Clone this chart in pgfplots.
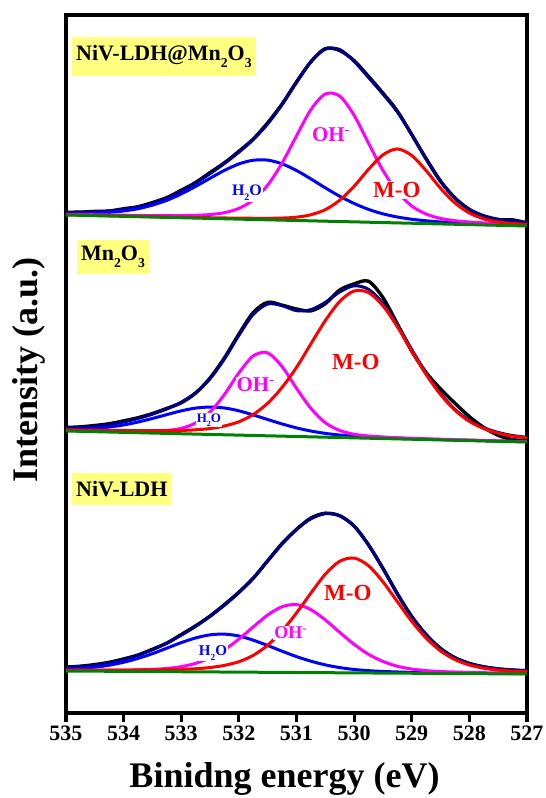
\documentclass[border=0pt]{standalone}
\usepackage{pgfplots}
\pgfplotsset{compat=1.18}
\usepackage{pgfplotstable}
\usepackage{fontspec}
\setmainfont{Liberation Serif}

\definecolor{navyenv}{RGB}{0,0,128}
\definecolor{basegreen}{RGB}{0,128,0}
\definecolor{tagyellow}{RGB}{255,255,128}
\definecolor{pureblue}{RGB}{0,0,255}
\definecolor{puremagenta}{RGB}{255,0,255}
\definecolor{purered}{RGB}{255,0,0}

% lowered, reduced subscript digit
\newcommand{\dn}[1]{\raisebox{-0.3em}{\scalebox{0.62}{#1}}}

% O 1s fits: x = binding energy (eV), base = background line,
% h2o, oh, mo = fitted components above background, env = fit envelope, raw = measured
\pgfplotstableread{
x base h2o oh mo env raw
535 498.00 1.5 0.7 0.2 2.4 2.8
534.75 497.66 1.9 0.8 0.3 3.0 3.2
534.5 497.31 2.6 0.9 0.3 3.8 4.3
534.25 496.97 3.7 1.0 0.3 5.0 5.0
534 496.63 5.4 1.2 0.4 7.0 7.6
533.75 496.28 8.0 1.3 0.4 9.7 10.0
533.5 495.94 11.9 1.5 0.4 13.8 14.5
533.25 495.59 17.1 1.8 0.5 19.4 19.8
533 495.25 23.8 2.2 0.5 26.5 27.5
532.75 494.91 31.7 2.8 0.6 35.1 35.6
532.5 494.56 40.2 3.9 0.7 44.8 45.9
532.25 494.22 48.4 6.1 0.8 55.3 56.0
532 493.88 55.2 10.7 1.0 66.9 67.8
531.75 493.53 59.2 19.5 1.2 79.9 80.5
531.5 493.19 59.7 34.7 1.5 95.9 97.0
531.25 492.84 56.3 57.1 2.1 115.5 116.2
531 492.50 50.0 84.6 3.3 137.9 138.6
530.75 492.16 41.9 111.2 6.1 159.2 159.0
530.5 491.81 33.3 127.2 11.5 172.0 172.6
530.25 491.47 25.3 125.4 21.3 172.0 171.0
530 491.13 18.4 106.5 35.6 160.5 161.2
529.75 490.78 12.8 79.0 52.9 144.7 145.8
529.5 490.44 8.7 52.1 67.7 128.5 129.5
529.25 490.09 5.9 31.1 74.0 111.0 111.8
529 489.75 4.0 17.2 67.7 88.9 88.5
528.75 489.41 2.8 9.5 52.9 65.2 64.6
528.5 489.06 2.0 5.5 35.6 43.1 42.6
528.25 488.72 1.6 3.6 21.3 26.5 26.0
528 488.38 1.3 2.6 11.5 15.4 15.0
527.75 488.03 1.1 2.1 6.1 9.3 8.6
527.5 487.69 1.0 1.8 3.3 6.1 5.5
527.25 487.34 0.9 1.5 2.1 4.5 5.8
527 487.00 0.8 1.3 1.5 3.6 3.0
}\tabComposite

\pgfplotstableread{
x base h2o oh mo env raw
535 282.00 1.4 0.6 1.2 3.2 3.5
534.75 281.66 2.1 0.7 1.3 4.1 4.5
534.5 281.31 3.2 0.8 1.5 5.5 6.2
534.25 280.97 5.0 0.9 1.6 7.5 8.3
534 280.63 7.4 1.1 1.9 10.4 11.5
533.75 280.28 10.7 1.4 2.1 14.2 15.0
533.5 279.94 14.6 1.9 2.4 18.9 19.5
533.25 279.59 18.8 2.9 2.8 24.5 25.0
533 279.25 22.9 5.4 3.3 31.6 31.0
532.75 278.91 26.0 11.1 4.3 41.4 41.0
532.5 278.56 27.4 22.4 5.9 55.7 56.5
532.25 278.22 26.8 40.3 8.8 75.9 77.0
532 277.88 24.3 62.2 13.3 99.8 101.0
531.75 277.53 20.5 79.6 21.0 121.1 123.0
531.5 277.19 16.3 82.9 32.6 131.8 133.5
531.25 276.84 12.2 69.5 48.8 130.5 131.0
531 276.50 8.6 48.1 69.1 125.8 127.5
530.75 276.16 5.8 28.4 93.0 127.2 126.0
530.5 275.81 3.8 14.4 116.6 134.8 133.5
530.25 275.47 2.5 7.0 136.1 145.6 147.5
530 275.13 1.6 3.6 146.9 152.1 154.0
529.75 274.78 1.1 2.2 145.6 148.9 157.0
529.5 274.44 0.8 1.6 132.8 135.2 141.0
529.25 274.09 0.6 1.2 112.2 114.0 115.0
529 273.75 0.5 1.0 88.2 89.7 88.0
528.75 273.41 0.4 0.8 65.0 66.2 67.0
528.5 273.06 0.4 0.7 45.3 46.4 51.0
528.25 272.72 0.3 0.6 30.0 30.9 37.0
528 272.38 0.3 0.6 19.2 20.1 24.0
527.75 272.03 0.3 0.5 12.4 13.2 13.5
527.5 271.69 0.2 0.5 8.1 8.8 6.0
527.25 271.34 0.2 0.4 5.5 6.1 2.0
527 271.00 0.2 0.4 4.1 4.7 1.5
}\tabOxide

\pgfplotstableread{
x base h2o oh mo env raw
535 42.00 1.9 0.7 0.9 3.5 3.9
534.75 41.91 2.7 0.8 1.0 4.5 4.9
534.5 41.81 4.0 0.9 1.1 6.0 6.6
534.25 41.72 6.1 1.1 1.2 8.4 9.0
534 41.63 9.1 1.3 1.3 11.7 12.4
533.75 41.53 13.1 1.6 1.5 16.2 16.5
533.5 41.44 17.9 2.2 1.7 21.8 22.3
533.25 41.34 23.5 3.2 2.0 28.7 28.5
533 41.25 29.1 5.1 2.4 36.6 37.2
532.75 41.16 33.9 8.5 3.1 45.5 46.0
532.5 41.06 37.1 14.1 4.4 55.6 55.9
532.25 40.97 37.9 22.2 6.7 66.8 67.5
532 40.88 36.1 33.0 10.4 79.5 79.9
531.75 40.78 32.0 45.4 16.9 94.3 94.0
531.5 40.69 26.8 57.3 27.1 111.2 111.6
531.25 40.59 21.2 65.7 41.5 128.4 128.9
531 40.50 15.9 67.9 59.5 143.3 143.0
530.75 40.41 11.4 62.9 79.5 153.8 154.6
530.5 40.31 7.8 52.7 98.5 159.0 159.5
530.25 40.22 5.2 40.4 111.5 157.1 157.0
530 40.13 3.4 28.5 114.8 146.7 146.9
529.75 40.03 2.3 18.6 107.2 128.1 128.0
529.5 39.94 1.6 11.6 91.2 104.4 104.8
529.25 39.84 1.2 6.9 71.5 79.6 79.3
529 39.75 0.9 4.2 51.9 57.0 56.5
528.75 39.66 0.8 2.7 35.2 38.7 38.6
528.5 39.56 0.7 1.9 22.5 25.1 24.8
528.25 39.47 0.6 1.5 13.9 16.0 15.6
528 39.38 0.55 1.2 8.6 10.4 10.0
527.75 39.28 0.5 1.0 5.5 7.0 6.8
527.5 39.19 0.45 0.9 3.7 5.1 4.8
527.25 39.09 0.4 0.8 2.8 4.0 3.8
527 39.00 0.35 0.7 2.3 3.4 3.2
}\tabLDH

% one stacked spectrum: raw data, envelope, three components, background
\newcommand{\spectrum}[1]{%
  \addplot[black, line width=3.4pt] table[x=x, y expr=\thisrow{base}+\thisrow{raw}] {#1};
  \addplot[navyenv, line width=3pt] table[x=x, y expr=\thisrow{base}+\thisrow{env}] {#1};
  \addplot[pureblue] table[x=x, y expr=\thisrow{base}+\thisrow{h2o}] {#1};
  \addplot[puremagenta] table[x=x, y expr=\thisrow{base}+\thisrow{oh}] {#1};
  \addplot[purered] table[x=x, y expr=\thisrow{base}+\thisrow{mo}] {#1};
  \addplot[basegreen] table[x=x, y=base] {#1};
}

\tikzset{
  tag/.style={fill=tagyellow, anchor=west, inner xsep=4pt, inner ysep=0pt,
    font=\fontsize{22}{22}\selectfont\bfseries},
  comp/.style={fill=white, inner sep=1pt, font=\fontsize{#1}{#1}\selectfont\bfseries},
}

\begin{document}
\begin{tikzpicture}
\begin{axis}[
  scale only axis, width=461pt, height=698pt,
  x dir=reverse, xmin=527, xmax=535, ymin=0, ymax=698,
  xtick={527,528,...,535}, ytick=\empty,
  xtick pos=left, tick align=outside, major tick length=9pt,
  axis line style={line width=3.2pt},
  every tick/.append style={line width=3.2pt, black},
  /pgf/number format/assume math mode=true,
  xticklabel style={font=\fontsize{22}{22}\selectfont\bfseries},
  xlabel={Binidng energy (eV)},
  ylabel={Intensity (a.u.)},
  xlabel style={at={([xshift=-12pt,yshift=-74pt]axis description cs:0.5,0)}, anchor=base},
  ylabel style={at={([xshift=-37pt,yshift=-6pt]axis description cs:0,0.5)}, anchor=center},
  label style={font=\fontsize{36}{36}\selectfont\bfseries},
  every axis plot/.append style={smooth, line width=3pt, no markers},
]
\spectrum{\tabComposite}
\spectrum{\tabOxide}
\spectrum{\tabLDH}

% sample tags
\node[tag, minimum height=39pt] at (axis cs:534.896,656.5) {NiV-LDH@Mn\dn{2}O\dn{3}};
\node[tag, minimum height=34pt] at (axis cs:534.81,456) {Mn\dn{2}O\dn{3}};
\node[tag, minimum height=32pt] at (axis cs:534.896,224) {NiV-LDH};

% component labels
\node[comp=16, text=pureblue] at (axis cs:531.86,520) {H\dn{2}O};
\node[comp=21, text=puremagenta] at (axis cs:530.40,578) {OH\textsuperscript{-}};
\node[comp=23, text=purered] at (axis cs:529.26,523) {M-O};

\node[comp=13, text=pureblue] at (axis cs:532.52,293) {H\dn{2}O};
\node[comp=21, text=puremagenta] at (axis cs:531.71,328) {OH\textsuperscript{-}};
\node[comp=23, text=purered] at (axis cs:529.97,351) {M-O};

\node[comp=15, text=pureblue] at (axis cs:532.45,60) {H\dn{2}O};
\node[comp=18, text=puremagenta] at (axis cs:531.10,80) {OH\textsuperscript{-}};
\node[comp=23, text=purered] at (axis cs:530.11,120) {M-O};

\coordinate (bl) at (axis description cs:0,0);
\coordinate (tr) at (axis description cs:1,1);
\end{axis}
\pgfresetboundingbox
\path[use as bounding box] ([xshift=-66pt,yshift=-85pt]bl) rectangle ([xshift=19pt,yshift=15pt]tr);
\end{tikzpicture}
\end{document}
